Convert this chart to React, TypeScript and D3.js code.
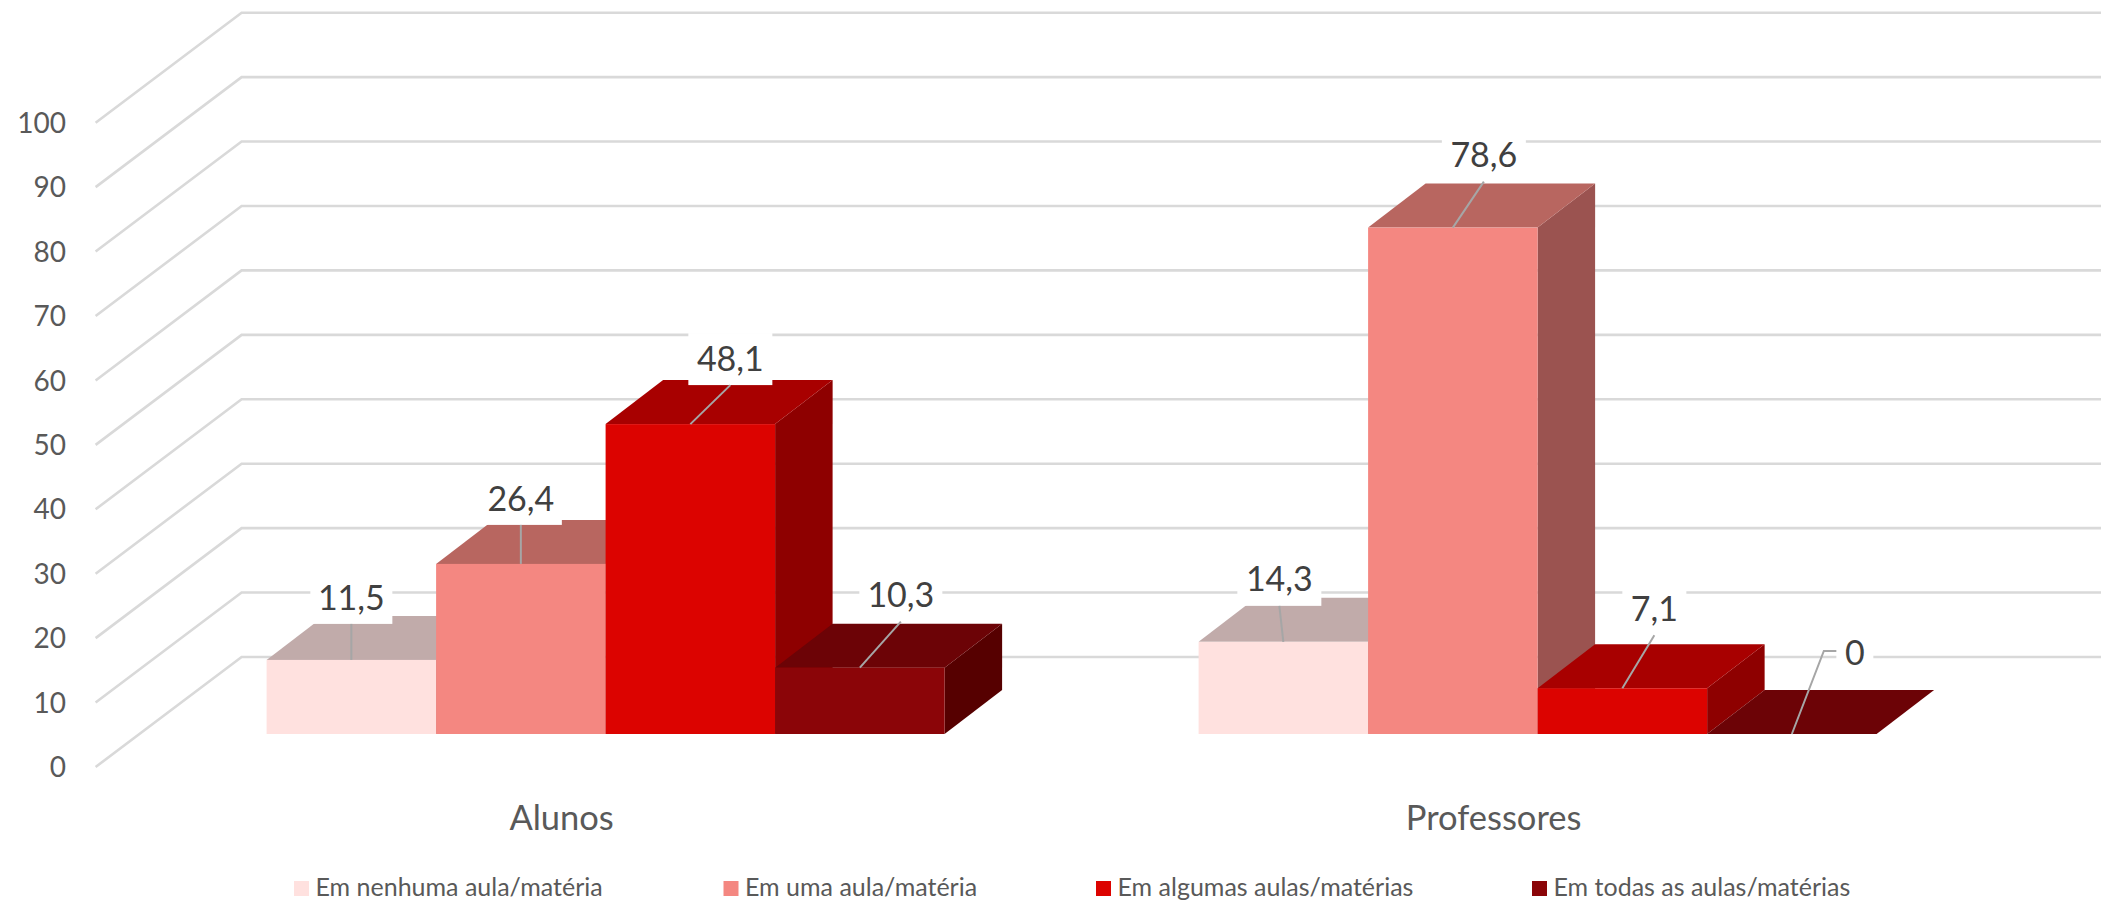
import { line, range, scaleBand, scaleLinear } from 'd3';
import React from 'react';

const categories = ['Alunos', 'Professores'];
const seriesNames = [
  'Em nenhuma aula/matéria',
  'Em uma aula/matéria',
  'Em algumas aulas/matérias',
  'Em todas as aulas/matérias',
];
const alunosValues = [11.5, 26.4, 48.1, 10.3];
const professoresValues = [14.3, 78.6, 7.1, 0];
const valueLabels = [
  ['11,5', '26,4', '48,1', '10,3'],
  ['14,3', '78,6', '7,1', '0'],
];
const axisTicks = [0, 10, 20, 30, 40, 50, 60, 70, 80, 90, 100];

// front, top and side faces for each series
const frontColors = ['#FFE1DF', '#F48781', '#DC0300', '#8B0508'];
const topColors = ['#C1ABAA', '#B86660', '#A80000', '#6C0306'];
const sideColors = ['#9F8F8E', '#9B5350', '#8E0000', '#560000'];

// data label placement, relative to the top centre of the bar's front face
const labelShifts = [
  [[0, -62], [0, -65], [40, -65], [41, -72]],
  [[-4, -62], [31, -72], [32, -79], [63, -81]],
];
const labelBoxWidths = [
  [82, 82, 84, 83],
  [84, 84, 64, 37],
];

const WIDTH = 2101;
const HEIGHT = 903;
const FONT = 'Lato, "Open Sans", sans-serif';

// 3D floor: the wall sits this far behind the front edge of the axis
const wallDx = 146;
const wallDy = -110;
// bars stand part of the way in, and have this depth
const barShiftX = 44;
const barShiftY = -33;
const depthX = 57.5;
const depthY = -44;

const yFront = scaleLinear().domain([0, 100]).range([767, 122.7]);
const xGroup = scaleBand<string>().domain(categories).range([95.6, 1959.6]);
const barWidth = 169.5;

const path = line<number[]>()
  .x((d) => d[0])
  .y((d) => d[1]);
const closed = (pts: number[][]) => `${path(pts)}Z`;

const App: React.FC = () => {
  const groups = [alunosValues, professoresValues];
  const xSeries = scaleBand<number>()
    .domain(range(seriesNames.length))
    .range([-2 * barWidth, 2 * barWidth]);
  const yBar = (v: number) => yFront(v) + barShiftY;
  const legendX = [294, 723.5, 1096, 1532];

  return (
    <svg
      width={WIDTH}
      height={HEIGHT}
      style={{ position: 'absolute', left: 0, top: 0, background: '#fff' }}
    >
      <g className="grid" fill="none" stroke="#D9D9D9" strokeWidth={2.6}>
        {axisTicks.map((t) => (
          <path
            key={t}
            d={
              path([
                [95.6, yFront(t)],
                [95.6 + wallDx, yFront(t) + wallDy],
                [WIDTH, yFront(t) + wallDy],
              ]) as string
            }
          />
        ))}
      </g>

      <g className="y-axis" fontFamily={FONT} fontSize={28} fill="#595959">
        {axisTicks.map((t) => (
          <text key={t} x={66} y={yFront(t) + 3} textAnchor="end" dominantBaseline="middle">
            {t}
          </text>
        ))}
      </g>

      <g className="x-axis" fontFamily={FONT} fontSize={34.5} fill="#595959">
        {categories.map((c) => (
          <text
            key={c}
            x={(xGroup(c) as number) + xGroup.bandwidth() / 2}
            y={821}
            textAnchor="middle"
            dominantBaseline="middle"
          >
            {c}
          </text>
        ))}
      </g>

      {groups.map((values, g) => {
        const center = (xGroup(categories[g]) as number) + xGroup.bandwidth() / 2 + barShiftX;
        return (
          <g key={categories[g]} className="bars">
            {values.map((v, i) => {
              const x0 = center + (xSeries(i) as number);
              const x1 = x0 + barWidth;
              const y0 = yBar(0);
              const y1 = yBar(v);
              return (
                <g key={i}>
                  <path
                    fill={sideColors[i]}
                    d={closed([
                      [x1, y0],
                      [x1 + depthX, y0 + depthY],
                      [x1 + depthX, y1 + depthY],
                      [x1, y1],
                    ])}
                  />
                  <path
                    fill={topColors[i]}
                    d={closed([
                      [x0, y1],
                      [x0 + depthX, y1 + depthY],
                      [x1 + depthX, y1 + depthY],
                      [x1, y1],
                    ])}
                  />
                  <rect x={x0} y={y1} width={barWidth} height={y0 - y1} fill={frontColors[i]} />
                </g>
              );
            })}
          </g>
        );
      })}

      {groups.map((values, g) => {
        const center = (xGroup(categories[g]) as number) + xGroup.bandwidth() / 2 + barShiftX;
        return (
          <g key={categories[g]} className="labels">
            {values.map((v, i) => {
              const ax = center + (xSeries(i) as number) + barWidth / 2;
              const ay = yBar(v);
              const [dx, dy] = labelShifts[g][i];
              const boxW = labelBoxWidths[g][i];
              const lx = ax + dx;
              const ly = ay + dy;
              // the zero label sits out to the side, so its leader has an elbow
              const leader =
                v === 0
                  ? [
                      [ax, ay],
                      [lx - 31, ly - 2],
                      [lx - boxW / 2, ly - 2],
                    ]
                  : [
                      [ax, ay],
                      [lx, ly + 26],
                    ];
              return (
                <g key={i}>
                  <rect x={lx - boxW / 2} y={ly - 26} width={boxW} height={52} fill="#fff" />
                  <path d={path(leader) as string} fill="none" stroke="#A6A6A6" strokeWidth={2} />
                  <text
                    x={lx}
                    y={ly + 3}
                    textAnchor="middle"
                    dominantBaseline="middle"
                    fontFamily={FONT}
                    fontSize={34}
                    fill="#404040"
                  >
                    {valueLabels[g][i]}
                  </text>
                </g>
              );
            })}
          </g>
        );
      })}

      <g className="legend" fontFamily={FONT} fontSize={25} fill="#595959">
        {seriesNames.map((name, i) => (
          <g key={name}>
            <rect x={legendX[i]} y={881} width={15} height={15} fill={frontColors[i]} />
            <text x={legendX[i] + 21.5} y={890} dominantBaseline="middle">
              {name}
            </text>
          </g>
        ))}
      </g>
    </svg>
  );
};

export default App;
